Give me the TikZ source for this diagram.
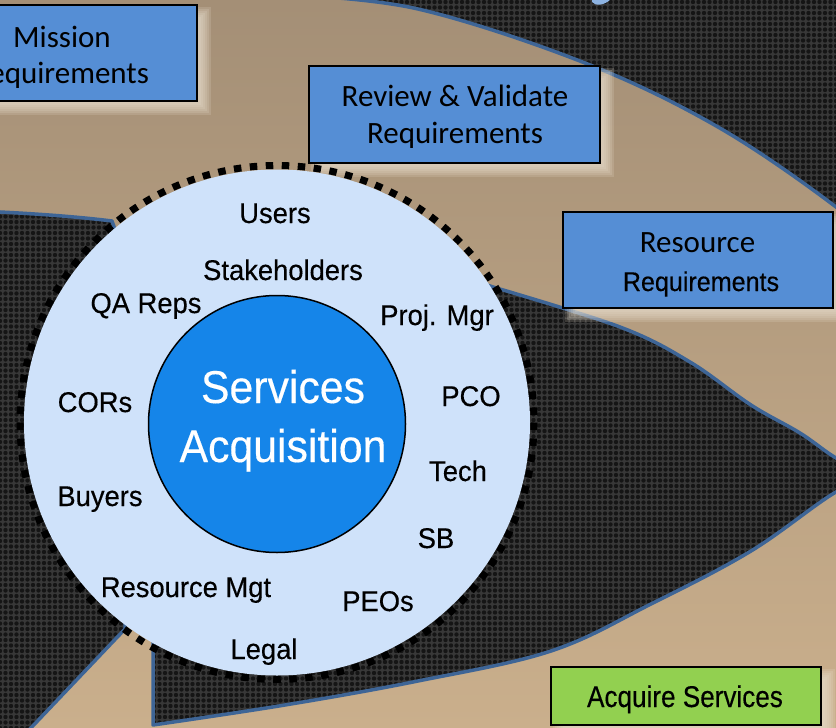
\documentclass[tikz,border=0pt]{standalone}
\usepackage{fontspec}
\setmainfont{Liberation Sans}[FakeStretch=0.96, FakeBold=0.35]
\newfontfamily\carl{Carlito}
\newfontfamily\narrowA[FakeStretch=0.93, FakeBold=0.3]{Liberation Sans}
\newfontfamily\narrowB[FakeStretch=0.87, FakeBold=0.3]{Liberation Sans}
\usetikzlibrary{patterns.meta}
\definecolor{tantop}{HTML}{A48F76}
\definecolor{tanbot}{HTML}{CAAF8C}
\definecolor{darkbg}{HTML}{383838}
\definecolor{darkdot}{HTML}{151515}
\definecolor{edgeblue}{HTML}{3E6596}
\definecolor{boxblue}{HTML}{558ED5}
\definecolor{boxgreen}{HTML}{92D050}
\definecolor{circfill}{HTML}{CFE2FA}
\definecolor{corefill}{HTML}{1585E9}
\definecolor{glowcol}{HTML}{E8DECE}
\definecolor{glyphblue}{HTML}{8DB3E2}
\newcommand{\glowbox}[4]{%
  \foreach \e in {-4,-2,0,2,4,6}{%
    \fill[glowcol, opacity=0.19] ({#1+8-\e},{#2+8-\e}) rectangle ({#3+8+\e},{#4+8+\e});
  }%
}
\tikzset{
  darkzone/.style={preaction={fill=darkbg},
    pattern={Dots[radius=2.2pt,distance=5.5pt]}, pattern color=darkdot,
    draw=edgeblue, line width=3.5pt, line join=round},
  reqbox/.style={draw=black, line width=1.6pt, fill=boxblue, inner sep=0pt},
  greenbox/.style={draw=black, line width=1.6pt, fill=boxgreen, inner sep=0pt},
  boxtxt/.style={font=\carl\fontsize{31}{34}\selectfont, anchor=base, inner sep=0pt},
  lbl/.style={font=\fontsize{28.5}{30}\selectfont, anchor=base, inner sep=0pt},
  ringdash/.style={draw=black, line width=7pt, dash pattern=on 7.5pt off 8.5pt}
}
\begin{document}
\begin{tikzpicture}[x=1pt,y=-1pt]
\useasboundingbox (0,0) rectangle (836,728);
\clip (0,0) rectangle (836,728);
% tan background
\shade[top color=tantop, bottom color=tanbot] (0,0) rectangle (836,728);
% top-right dark region
\path[darkzone] plot[smooth, tension=0.6] coordinates {(290,-5) (418,9) (585,63) (718,127) (836,207) (880,250)} -- (900,-30) -- (290,-30) -- cycle;
% lens dark region
\path[darkzone] (153,725) -- (153,300) -- (300,240) -- (420,262) -- plot[smooth, tension=0.6] coordinates {(493,287) (620,327) (690,362) (751,405) (800,433) (836,458) (875,478)} -- plot[smooth, tension=0.6] coordinates {(875,480) (836,492) (751,551) (651,604) (551,651) (418,681) (285,705) (153,725)} -- cycle;
% left dark region
\path[darkzone] (-20,211) -- (0,212) .. controls (40,214) and (80,217) .. (112,221) -- (140,300) -- (125,629) -- (28,731) -- (-20,760) -- cycle;
% fragment of a title glyph at the top
\fill[glyphblue] (592,-1) -- (592,2) .. controls (595,6) and (604,6) .. (611,-1) -- cycle;
% glows behind boxes
\glowbox{-73}{5}{197}{101}
\glowbox{309}{66}{600}{163}
\glowbox{563}{212}{833}{308}
\glowbox{551}{667}{821}{725}
% boxes
\node[reqbox, minimum width=270pt, minimum height=96pt] (mission) at (62,53) {};
\node[boxtxt] (missionA) at (62,47) {Mission};
\node[boxtxt] (missionB) at (61,83) {Requirements};
\node[reqbox, minimum width=291pt, minimum height=97pt] (review) at (454.5,114.5) {};
\node[boxtxt] (reviewA) at (455,106) {Review \& Validate};
\node[boxtxt] (reviewB) at (455,143) {Requirements};
\node[reqbox, minimum width=270pt, minimum height=96pt] (resource) at (698,260) {};
\node[boxtxt] (resourceA) at (697.5,252) {Resource};
\node[lbl, font=\narrowA\fontsize{27}{28}\selectfont] (resourceB) at (701,291) {Requirements};
\node[greenbox, minimum width=270pt, minimum height=58pt] (acquire) at (686,696) {};
\node[lbl, font=\narrowB\fontsize{30}{32}\selectfont] (acquireT) at (685,707) {Acquire Services};
% big circle
\node[circle, fill=circfill, minimum size=506pt, inner sep=0pt] (ring) at (277,422.5) {};
\draw[ringdash] (ring.center) circle[radius=257];
\node[circle, fill=corefill, draw=black, line width=1.5pt, minimum size=257pt, inner sep=0pt] (core) at (277,424) {};
\node[lbl, font=\narrowA\fontsize{46}{50}\selectfont, text=white] (coreA) at (283,403) {Services};
\node[lbl, font=\narrowA\fontsize{46}{50}\selectfont, text=white] (coreB) at (283,462) {Acquisition};
% labels round the ring
\node[lbl] (users) at (275,223) {Users};
\node[lbl] (stake) at (283,280) {Stakeholders};
\node[lbl] (qa) at (146,313) {QA Reps};
\node[lbl] (pm) at (437,325) {Proj. Mgr};
\node[lbl] (cors) at (95,412) {CORs};
\node[lbl] (pco) at (471,406) {PCO};
\node[lbl] (tech) at (458,481) {Tech};
\node[lbl] (buyers) at (100,506) {Buyers};
\node[lbl] (sb) at (436,548) {SB};
\node[lbl] (rmgt) at (186,597) {Resource Mgt};
\node[lbl] (peos) at (378,611) {PEOs};
\node[lbl] (legal) at (264,659) {Legal};
\end{tikzpicture}
\end{document}
